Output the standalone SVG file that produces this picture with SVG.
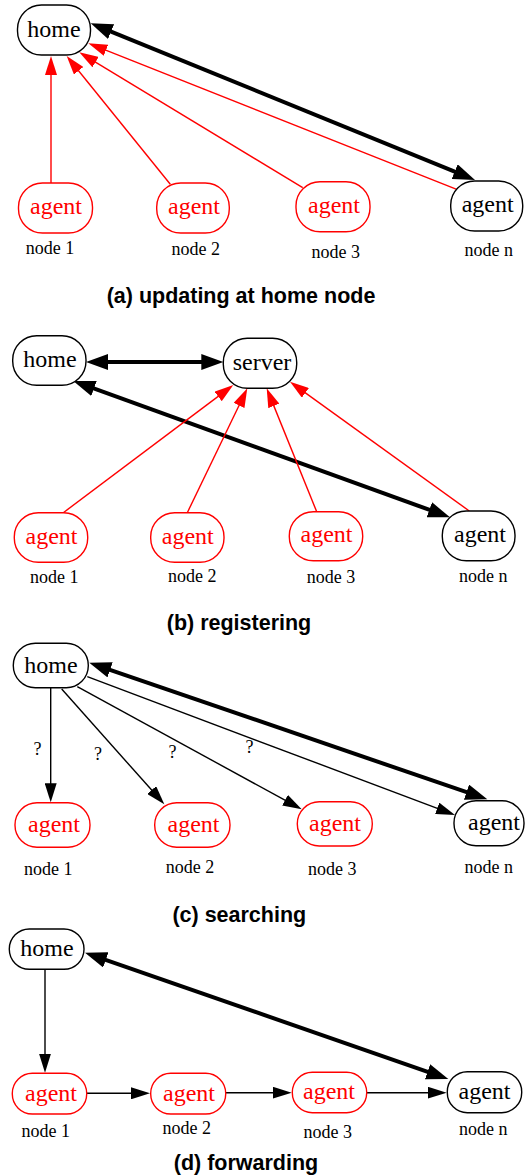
<svg xmlns="http://www.w3.org/2000/svg" width="527" height="1176" viewBox="0 0 527 1176">
<style>
.nb{fill:#fff;stroke:#000;stroke-width:1.4}
.nr{fill:#fff;stroke:#f00;stroke-width:1.4}
.tb{font-family:"Liberation Serif","Times New Roman",serif;font-size:24px;fill:#000;text-anchor:middle}
.tr{font-family:"Liberation Serif","Times New Roman",serif;font-size:24px;fill:#f00;text-anchor:middle}
.lbl{font-family:"Liberation Serif","Times New Roman",serif;font-size:18px;fill:#000;text-anchor:middle}
.q{font-family:"Liberation Serif","Times New Roman",serif;font-size:18px;fill:#000;text-anchor:middle}
.title{font-family:"Liberation Sans",Arial,sans-serif;font-size:21.5px;font-weight:bold;fill:#000;text-anchor:middle}
.er{fill:none;stroke:#f00;stroke-width:1.4;marker-end:url(#ar)}
.ek{fill:none;stroke:#000;stroke-width:1.4;marker-end:url(#ak)}
.et{fill:none;stroke:#000;stroke-width:4;marker-end:url(#at);marker-start:url(#at)}
</style>
<defs>
<marker id="ar" markerUnits="userSpaceOnUse" markerWidth="20" markerHeight="12" refX="3" refY="6" orient="auto" viewBox="0 0 20 12"><path d="M0,0 L19,6 L0,12 z" fill="#f00"/></marker>
<marker id="ak" markerUnits="userSpaceOnUse" markerWidth="20" markerHeight="12" refX="3" refY="6" orient="auto" viewBox="0 0 20 12"><path d="M0,0 L19,6 L0,12 z" fill="#000"/></marker>
<marker id="at" markerUnits="userSpaceOnUse" markerWidth="23" markerHeight="16" refX="4" refY="8" orient="auto-start-reverse" viewBox="0 0 23 16"><path d="M0,0 L22,8 L0,16 z" fill="#000"/></marker>
</defs>

<g id="connectors">
<!-- (a) -->
<path class="er" d="M51,183 L51,72"/>
<path class="er" d="M170.3,184.3 L76.75,68.45"/>
<path class="er" d="M302.7,187.7 L92.98,60.59"/>
<path class="er" d="M456.7,189.3 L103.17,49.19"/>
<path class="et" d="M107.37,30.1 L458.33,173.2"/>
<!-- (b) -->
<path class="et" d="M104,362 L205.3,362"/>
<path class="et" d="M90.23,387.12 L433.07,511.18"/>
<path class="er" d="M63.3,512.7 L220.51,394.61"/>
<path class="er" d="M187.3,512.7 L240.35,402.71"/>
<path class="er" d="M316.7,511.7 L272.71,403.13"/>
<path class="er" d="M469.3,511 L302.98,391.06"/>
<!-- (c) -->
<path class="ek" d="M50.7,687.7 L50.7,786.3"/>
<path class="ek" d="M61.7,689 L153.66,792.34"/>
<path class="ek" d="M77.3,686.7 L287.66,801.63"/>
<path class="ek" d="M87.3,676.7 L440.02,809.37"/>
<path class="et" d="M106.32,668.54 L470.28,793.46"/>
<!-- (d) -->
<path class="ek" d="M45,970 L45,1056.7"/>
<path class="ek" d="M86.7,1093.3 L134,1093.3"/>
<path class="ek" d="M225.7,1092.7 L275.7,1092.7"/>
<path class="ek" d="M366.7,1092.7 L430.7,1092.7"/>
<path class="et" d="M102,958.61 L431.3,1073.09"/>
</g>

<g id="a-home"><rect class="nb" x="17.5" y="5" width="73" height="50" rx="24"/><text class="tb" x="54" y="36.5">home</text></g>
<g id="a-agent1"><rect class="nr" x="18.5" y="183" width="74" height="50" rx="24"/><text class="tr" x="56" y="214">agent</text><text class="lbl" x="50" y="254">node 1</text></g>
<g id="a-agent2"><rect class="nr" x="156.7" y="183" width="72.6" height="50" rx="24"/><text class="tr" x="194" y="214">agent</text><text class="lbl" x="195.7" y="255.3">node 2</text></g>
<g id="a-agent3"><rect class="nr" x="296" y="181.7" width="74" height="50" rx="24"/><text class="tr" x="334" y="212.7">agent</text><text class="lbl" x="335.7" y="258">node 3</text></g>
<g id="a-agentn"><rect class="nb" x="450.7" y="181" width="72" height="50" rx="24"/><text class="tb" x="487.7" y="212">agent</text><text class="lbl" x="488.7" y="256">node n</text></g>
<text id="title-a" class="title" x="241" y="303">(a) updating at home node</text>

<g id="b-home"><rect class="nb" x="12.7" y="335.7" width="73.3" height="49.6" rx="24"/><text class="tb" x="50" y="367">home</text></g>
<g id="b-server"><rect class="nb" x="223.3" y="338.3" width="73.4" height="50" rx="24"/><text class="tb" x="262" y="370">server</text></g>
<g id="b-agent1"><rect class="nr" x="14.3" y="512.7" width="73.4" height="49.6" rx="24"/><text class="tr" x="51.5" y="543.5">agent</text><text class="lbl" x="54.3" y="583.3">node 1</text></g>
<g id="b-agent2"><rect class="nr" x="150.7" y="512.7" width="73.3" height="49.6" rx="24"/><text class="tr" x="187.8" y="543.5">agent</text><text class="lbl" x="192.3" y="581.7">node 2</text></g>
<g id="b-agent3"><rect class="nr" x="289.3" y="511.7" width="73.4" height="49" rx="24"/><text class="tr" x="326.5" y="542.2">agent</text><text class="lbl" x="331" y="583.3">node 3</text></g>
<g id="b-agentn"><rect class="nb" x="442.3" y="511" width="72.7" height="49.7" rx="24"/><text class="tb" x="480" y="542">agent</text><text class="lbl" x="483.3" y="581.7">node n</text></g>
<text id="title-b" class="title" x="239" y="630">(b) registering</text>

<g id="c-home"><rect class="nb" x="13.3" y="643.3" width="75" height="44.4" rx="22"/><text class="tb" x="51" y="672.5">home</text></g>
<g id="c-agent1"><rect class="nr" x="15" y="802.7" width="75" height="44.6" rx="22"/><text class="tr" x="54" y="832">agent</text><text class="lbl" x="48.3" y="875">node 1</text></g>
<g id="c-agent2"><rect class="nr" x="154.7" y="802.7" width="75.3" height="44.6" rx="22"/><text class="tr" x="193.5" y="832">agent</text><text class="lbl" x="190" y="872.7">node 2</text></g>
<g id="c-agent3"><rect class="nr" x="297.3" y="801.7" width="75" height="44.3" rx="22"/><text class="tr" x="335" y="830.5">agent</text><text class="lbl" x="332.3" y="875">node 3</text></g>
<g id="c-agentn"><rect class="nb" x="454" y="800.7" width="70" height="45" rx="22"/><text class="tb" x="494" y="830">agent</text><text class="lbl" x="488.7" y="872.7">node n</text></g>
<g id="c-qmarks"><text class="q" x="37.5" y="755">?</text><text class="q" x="98" y="760">?</text><text class="q" x="172.5" y="758">?</text><text class="q" x="249.5" y="752.7">?</text></g>
<text id="title-c" class="title" x="239.3" y="921.7">(c) searching</text>

<g id="d-home"><rect class="nb" x="9.3" y="929" width="74.7" height="40.3" rx="20"/><text class="tb" x="47" y="956">home</text></g>
<g id="d-agent1"><rect class="nr" x="12.3" y="1073.3" width="74.4" height="40.7" rx="20"/><text class="tr" x="51" y="1100.5">agent</text><text class="lbl" x="45.7" y="1136.7">node 1</text></g>
<g id="d-agent2"><rect class="nr" x="150.7" y="1073.3" width="75" height="40.7" rx="20"/><text class="tr" x="189" y="1101">agent</text><text class="lbl" x="186.7" y="1134.3">node 2</text></g>
<g id="d-agent3"><rect class="nr" x="292.3" y="1072.3" width="74.4" height="40.4" rx="20"/><text class="tr" x="329" y="1099">agent</text><text class="lbl" x="327.7" y="1137.7">node 3</text></g>
<g id="d-agentn"><rect class="nb" x="447.3" y="1071.7" width="74.4" height="41" rx="20"/><text class="tb" x="484.5" y="1099">agent</text><text class="lbl" x="483.3" y="1135">node n</text></g>
<text id="title-d" class="title" x="246" y="1170">(d) forwarding</text>
</svg>
